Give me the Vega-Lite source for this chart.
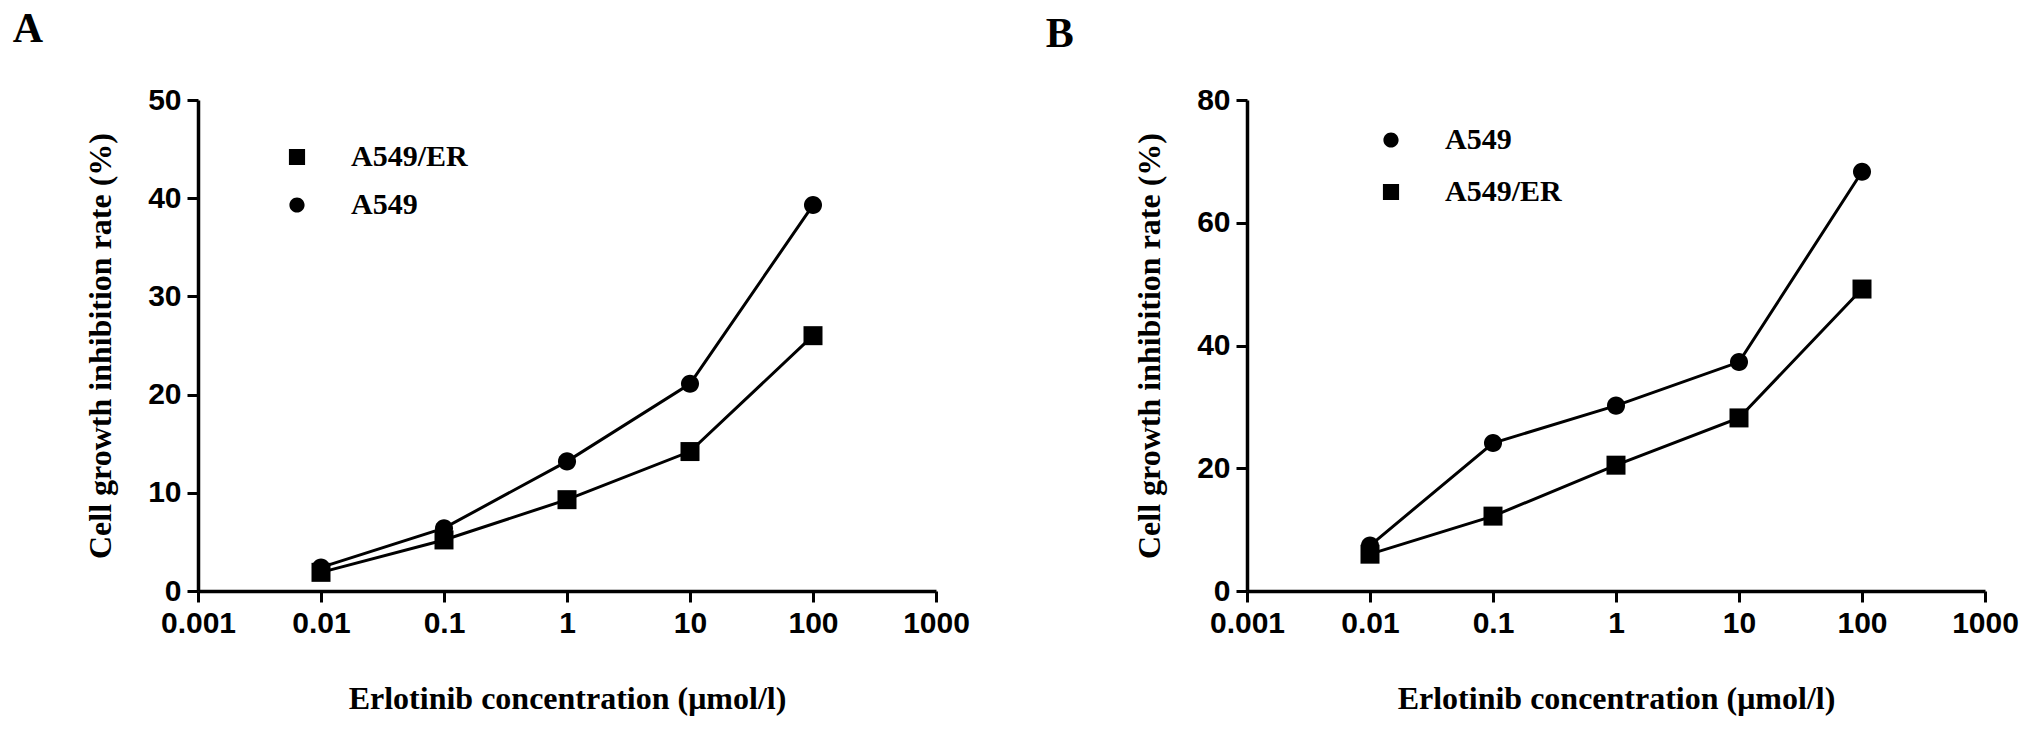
{
  "$schema": "https://vega.github.io/schema/vega-lite/v6.json",
  "background": "white",
  "padding": {"left": 12, "top": 8, "right": 5, "bottom": 5},
  "spacing": 75,
  "resolve": {"scale": {"shape": "independent"}, "legend": {"shape": "independent"}},
  "config": {
    "view": {"stroke": null},
    "title": {
      "anchor": "start",
      "frame": "bounds",
      "font": "Liberation Serif",
      "fontSize": 42,
      "fontWeight": "bold",
      "color": "black",
      "offset": 34
    },
    "axis": {
      "grid": false,
      "domainColor": "black",
      "domainWidth": 3.5,
      "tickColor": "black",
      "tickWidth": 3,
      "tickSize": 11,
      "labelFont": "Liberation Sans",
      "labelFontWeight": "bold",
      "labelFontSize": 30,
      "labelColor": "black",
      "labelPadding": 6,
      "labelFlush": false,
      "labelOverlap": false,
      "titleFont": "Liberation Serif",
      "titleFontWeight": "bold",
      "titleFontSize": 32,
      "titleColor": "black"
    },
    "axisX": {"titlePadding": 45},
    "axisY": {"titlePadding": 30},
    "legend": {
      "title": null,
      "labelFont": "Liberation Serif",
      "labelFontWeight": "bold",
      "labelFontSize": 30,
      "labelColor": "black",
      "symbolSize": 361,
      "symbolStrokeWidth": 3,
      "symbolStrokeColor": "black",
      "symbolFillColor": "black",
      "symbolOpacity": 1,
      "labelOffset": 39
    }
  },
  "hconcat": [
    {
      "title": {"text": "A", "dx": -72},
      "width": 738,
      "height": 491,
      "data": {
        "values": [
          {"conc": 0.01, "rate": 1.9, "line": "A549/ER"},
          {"conc": 0.1, "rate": 5.2, "line": "A549/ER"},
          {"conc": 1, "rate": 9.3, "line": "A549/ER"},
          {"conc": 10, "rate": 14.2, "line": "A549/ER"},
          {"conc": 100, "rate": 26.0, "line": "A549/ER"},
          {"conc": 0.01, "rate": 2.4, "line": "A549"},
          {"conc": 0.1, "rate": 6.4, "line": "A549"},
          {"conc": 1, "rate": 13.2, "line": "A549"},
          {"conc": 10, "rate": 21.1, "line": "A549"},
          {"conc": 100, "rate": 39.3, "line": "A549"}
        ]
      },
      "encoding": {
        "x": {
          "field": "conc",
          "type": "quantitative",
          "scale": {"type": "log", "domain": [0.001, 1000], "nice": false},
          "axis": {
            "values": [0.001, 0.01, 0.1, 1, 10, 100, 1000],
            "labelExpr": "'' + datum.value",
            "title": "Erlotinib concentration  (μmol/l)"
          }
        },
        "y": {
          "field": "rate",
          "type": "quantitative",
          "scale": {"domain": [0, 50], "nice": false},
          "axis": {
            "values": [0, 10, 20, 30, 40, 50],
            "title": "Cell growth inhibition rate (%)"
          }
        }
      },
      "layer": [
        {
          "mark": {"type": "line", "color": "black", "strokeWidth": 3},
          "encoding": {"detail": {"field": "line"}}
        },
        {
          "mark": {"type": "point", "filled": false, "fill": "black", "stroke": "black", "strokeWidth": 3, "opacity": 0},
          "encoding": {
            "shape": {
              "field": "line",
              "type": "nominal",
              "scale": {
                "domain": ["A549/ER", "A549"],
                "range": [
                  "M-2.8,0H2.8M-0.85,-0.85H0.85V0.85H-0.85Z",
                  "M-2.8,0H2.8M0.8,0A0.8,0.8,0,1,1,-0.8,0A0.8,0.8,0,1,1,0.8,0Z"
                ]
              },
              "legend": {
                "orient": "none",
                "legendX": 84,
                "legendY": 42,
                "rowPadding": 18,
                "symbolStrokeColor": "black",
                "symbolStrokeWidth": 3
              }
            }
          }
        },
        {
          "transform": [{"filter": "datum.line == 'A549/ER'"}],
          "mark": {"type": "point", "shape": "square", "filled": true, "opacity": 1, "color": "black", "size": 361}
        },
        {
          "transform": [{"filter": "datum.line == 'A549'"}],
          "mark": {"type": "point", "shape": "M0.95,0A0.95,0.95,0,1,1,-0.95,0A0.95,0.95,0,1,1,0.95,0Z", "filled": true, "opacity": 1, "color": "black", "size": 361}
        }
      ]
    },
    {
      "title": {"text": "B", "dx": -88, "dy": 5},
      "width": 738,
      "height": 491,
      "data": {
        "values": [
          {"conc": 0.01, "rate": 7.4, "line": "A549"},
          {"conc": 0.1, "rate": 24.1, "line": "A549"},
          {"conc": 1, "rate": 30.2, "line": "A549"},
          {"conc": 10, "rate": 37.3, "line": "A549"},
          {"conc": 100, "rate": 68.3, "line": "A549"},
          {"conc": 0.01, "rate": 6.0, "line": "A549/ER"},
          {"conc": 0.1, "rate": 12.2, "line": "A549/ER"},
          {"conc": 1, "rate": 20.5, "line": "A549/ER"},
          {"conc": 10, "rate": 28.2, "line": "A549/ER"},
          {"conc": 100, "rate": 49.2, "line": "A549/ER"}
        ]
      },
      "encoding": {
        "x": {
          "field": "conc",
          "type": "quantitative",
          "scale": {"type": "log", "domain": [0.001, 1000], "nice": false},
          "axis": {
            "values": [0.001, 0.01, 0.1, 1, 10, 100, 1000],
            "labelExpr": "'' + datum.value",
            "title": "Erlotinib concentration  (μmol/l)"
          }
        },
        "y": {
          "field": "rate",
          "type": "quantitative",
          "scale": {"domain": [0, 80], "nice": false},
          "axis": {
            "values": [0, 20, 40, 60, 80],
            "title": "Cell growth inhibition rate (%)"
          }
        }
      },
      "layer": [
        {
          "mark": {"type": "line", "color": "black", "strokeWidth": 3},
          "encoding": {"detail": {"field": "line"}}
        },
        {
          "mark": {"type": "point", "filled": false, "fill": "black", "stroke": "black", "strokeWidth": 3, "opacity": 0},
          "encoding": {
            "shape": {
              "field": "line",
              "type": "nominal",
              "scale": {
                "domain": ["A549", "A549/ER"],
                "range": [
                  "M-2.8,0H2.8M0.8,0A0.8,0.8,0,1,1,-0.8,0A0.8,0.8,0,1,1,0.8,0Z",
                  "M-2.8,0H2.8M-0.85,-0.85H0.85V0.85H-0.85Z"
                ]
              },
              "legend": {
                "orient": "none",
                "legendX": 129,
                "legendY": 25,
                "rowPadding": 22,
                "symbolStrokeColor": "black",
                "symbolStrokeWidth": 3
              }
            }
          }
        },
        {
          "transform": [{"filter": "datum.line == 'A549/ER'"}],
          "mark": {"type": "point", "shape": "square", "filled": true, "opacity": 1, "color": "black", "size": 361}
        },
        {
          "transform": [{"filter": "datum.line == 'A549'"}],
          "mark": {"type": "point", "shape": "M0.95,0A0.95,0.95,0,1,1,-0.95,0A0.95,0.95,0,1,1,0.95,0Z", "filled": true, "opacity": 1, "color": "black", "size": 361}
        }
      ]
    }
  ]
}
